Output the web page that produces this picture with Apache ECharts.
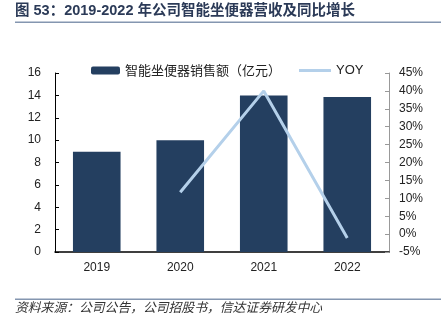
<!DOCTYPE html>
<html><head><meta charset="utf-8">
<script src="https://cdn.jsdelivr.net/npm/echarts@6/dist/echarts.min.js"></script>
<style>html,body{margin:0;padding:0;background:#fff}#c{width:441px;height:325px}</style>
</head><body><div id="c"></div>
<script>
const categories = ['2019', '2020', '2021', '2022'];
const sales = [8.95, 10.0, 14.0, 13.85];
const yoy = [null, 11.7, 40.0, -1.1];
const leftTicks = [0, 2, 4, 6, 8, 10, 12, 14, 16];
const rightTicks = [-5, 0, 5, 10, 15, 20, 25, 30, 35, 40, 45];
const titleText = '图 53：2019-2022 年公司智能坐便器营收及同比增长';
const sourceText = '资料来源：公司公告，公司招股书，信达证券研发中心';
const salesName = '智能坐便器销售额（亿元）';
const yoyName = 'YOY';

const chart = echarts.init(document.getElementById('c'));
const font = 'Liberation Sans, Arial, Noto Sans CJK SC, sans-serif';
chart.setOption({
  animation: false,
  textStyle: { fontFamily: font },
  graphic: [
    { type: 'text', left: 15, top: 4, style: { text: titleText, fontSize: 14.5, fontWeight: 'bold', fill: '#2b3a57', fontFamily: font } },
    { type: 'rect', shape: { x: 15, y: 21.5, width: 426, height: 1.5 }, style: { fill: '#8496b0' } },
    { type: 'rect', shape: { x: 15, y: 298.5, width: 426, height: 1.5 }, style: { fill: '#8496b0' } },
    { type: 'text', left: 15, top: 301, style: { text: sourceText, fontSize: 12.8, fontStyle: 'italic', fill: '#333', fontFamily: 'Noto Sans CJK SC, sans-serif' } }
  ],
  legend: [
    { data: [salesName], left: 86, top: 59, itemWidth: 29, itemHeight: 8, itemGap: 6,
      textStyle: { fontSize: 13, color: '#222', fontFamily: 'Noto Sans CJK SC, sans-serif' } },
    { data: [{ name: yoyName, icon: 'rect' }], left: 294, top: 59, itemWidth: 32, itemHeight: 3,
      textStyle: { fontSize: 13, color: '#222', fontFamily: font } }
  ],
  grid: { left: 55, right: 52, top: 73, bottom: 73 },
  xAxis: {
    type: 'category', data: categories,
    axisLine: { lineStyle: { color: '#000', width: 1.5 } },
    axisTick: { inside: true, length: 4, lineStyle: { color: '#000' } },
    axisLabel: { fontSize: 12, color: '#222', margin: 10 }
  },
  yAxis: [
    { type: 'value', min: 0, max: 16, interval: 2, splitLine: { show: false },
      axisLine: { show: true, lineStyle: { color: '#000' } },
      axisTick: { show: true, inside: true, length: 4, lineStyle: { color: '#000' } },
      axisLabel: { fontSize: 12, color: '#222', margin: 14 } },
    { type: 'value', min: -5, max: 45, interval: 5, splitLine: { show: false },
      axisLine: { show: true, lineStyle: { color: '#999' } },
      axisTick: { show: true, inside: true, length: 4, lineStyle: { color: '#999' } },
      axisLabel: { fontSize: 12, color: '#222', margin: 10, formatter: v => v + '%' } }
  ],
  series: [
    { name: salesName, type: 'bar', data: sales, barWidth: '57%',
      itemStyle: { color: '#243f60' } },
    { name: yoyName, type: 'line', yAxisIndex: 1, data: yoy, symbol: 'none',
      lineStyle: { color: '#b4d0ea', width: 3 }, itemStyle: { color: '#b4d0ea' } }
  ]
});
</script></body></html>
